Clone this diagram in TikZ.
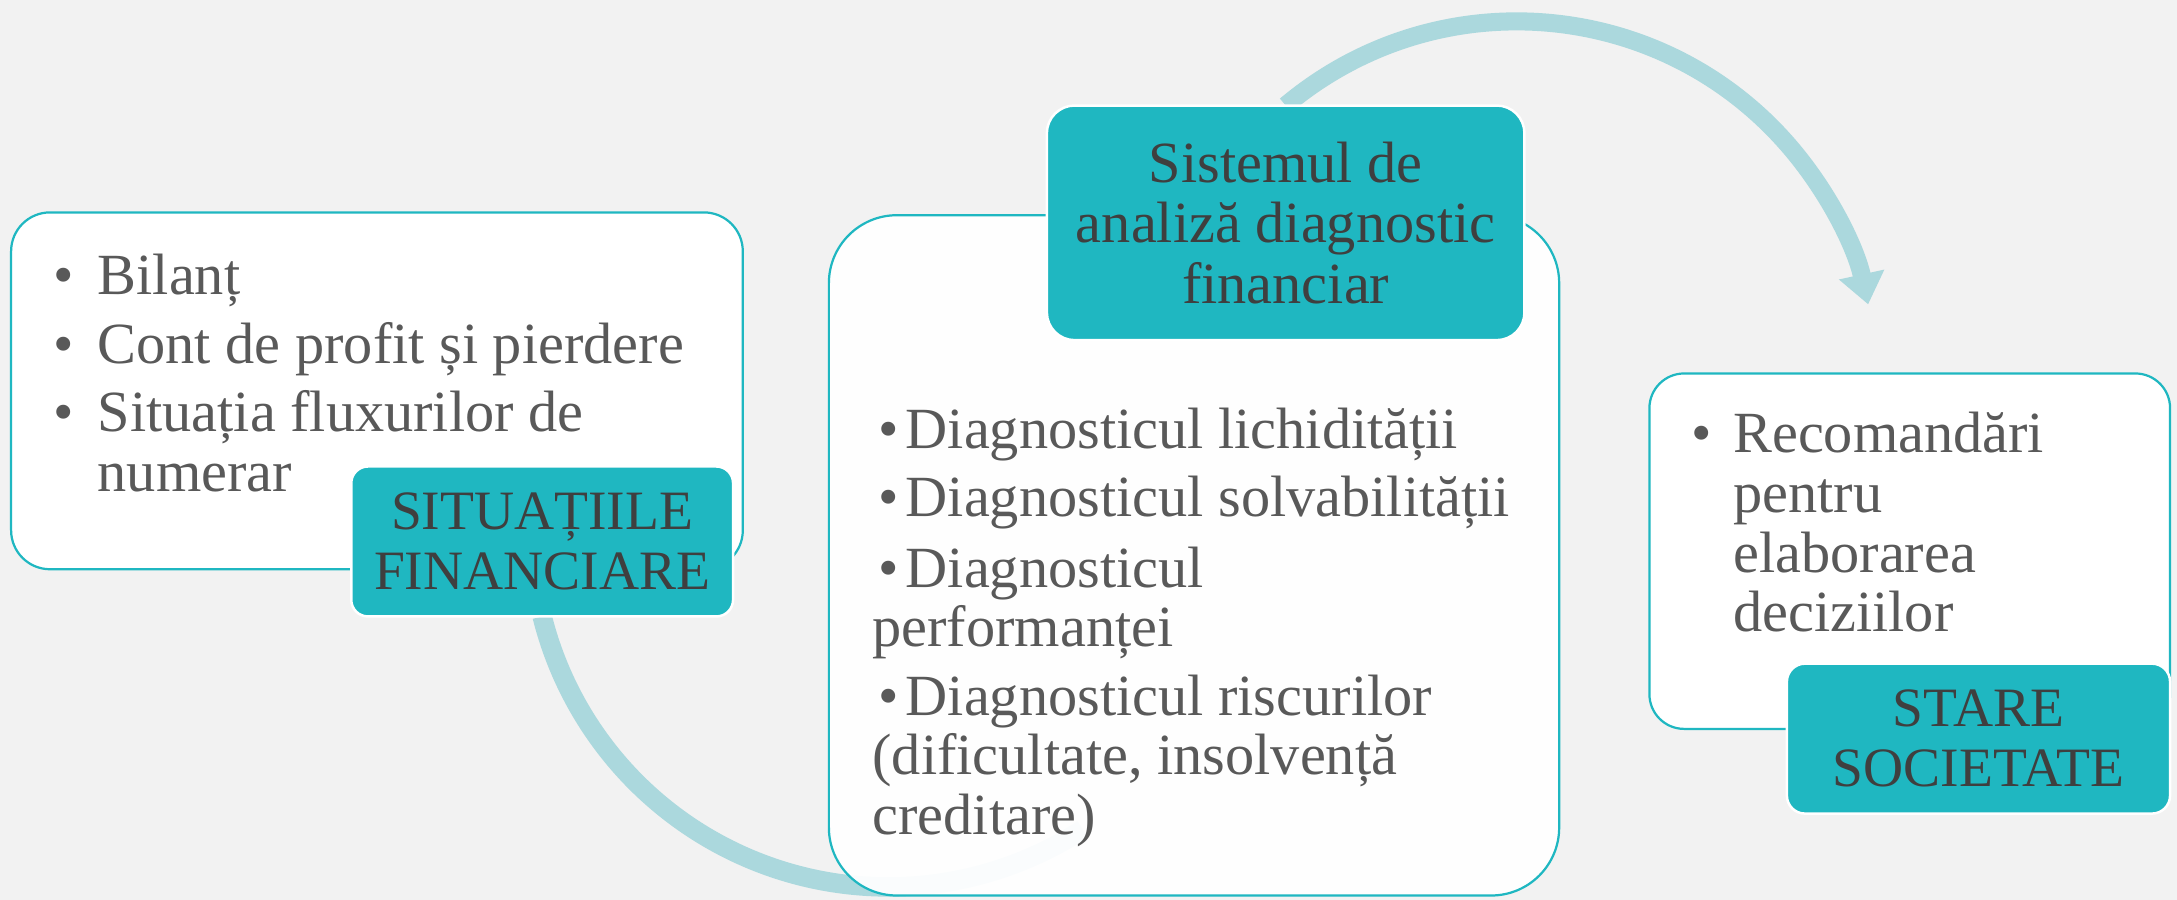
\documentclass[tikz,border=0pt]{standalone}
\usepackage{fontspec}
\setmainfont{Liberation Serif}
\usetikzlibrary{arrows.meta}
\definecolor{bg}{HTML}{F2F2F2}
\definecolor{tealc}{HTML}{1FB7C1}
\definecolor{arcc}{HTML}{ABD8DD}
\definecolor{bodytxt}{HTML}{595959}
\definecolor{labtxt}{HTML}{3F3F3F}
\newcommand\blA{\makebox[16pt][l]{•}}
\newcommand\blC{\makebox[15pt][l]{•}}
\newcommand\blB{\makebox[12pt][c]{•}}
\begin{document}
\begin{tikzpicture}[x=0.5pt,y=0.5pt,
  panel/.style={draw=tealc, line width=0.8pt, fill=white, rounded corners=#1,
    inner sep=0pt, outer sep=0pt},
  label/.style={draw=white, line width=0.9pt, fill=tealc, text=labtxt,
    rounded corners=#1, align=center, inner sep=0pt, outer sep=0pt},
  bodytext/.style={text=bodytxt, align=left, inner sep=0pt, anchor=base west,
    font=\fontsize{21}{21.5}\selectfont},
  flow/.style={arcc, line width=#1}]
\fill[bg] (0,0) rectangle (1568,648);
\useasboundingbox (0,0) rectangle (1568,648);

% arc end points at the label edges
\coordinate (aS) at (390.5,204);
\coordinate (bN) at (926,572);

% flow arcs
\draw[flow=7pt] (aS) arc[start angle=194, end angle=303, radius=257];
\draw[flow=6.5pt, -{Triangle[width=16pt,length=11pt]}] (bN) arc[start angle=130, end angle=12.3, radius=259];

% panels
\node[panel=14pt, minimum width=263.5pt, minimum height=128.5pt] (boxA) at (271.5,366.5) {};
\node[panel=24.5pt, minimum width=263pt, minimum height=245pt, fill opacity=0.94] (boxB) at (860,248) {};
\node[panel=12.5pt, minimum width=187.5pt, minimum height=128pt] (boxC) at (1375.5,251) {};

% panel texts (anchored at the baseline of the last line)
\node[bodytext] (tA) at (38,294) {\blA Bilanț\\[3.5pt]
\blA Cont de profit și pierdere\\[3pt]
\blA Situația fluxurilor de\\
\hspace*{16pt}numerar};

\node[bodytext] (tB) at (628,47) {\blB Diagnosticul lichidității\\[3pt]
\blB Diagnosticul solvabilității\\[4pt]
\blB Diagnosticul\\
performanței\\[3pt]
\blB Diagnosticul riscurilor\\
(dificultate, insolvență\\
creditare)};

\node[bodytext] (tC) at (1218,193) {\blC Recomandări\\
\hspace*{15pt}pentru\\
\hspace*{15pt}elaborarea\\
\hspace*{15pt}deciziilor};

% labels
\node[label=6pt, minimum width=137.5pt, minimum height=54pt,
  font=\fontsize{20}{21.5}\selectfont] (labA) at (390.5,258) {SITUAȚIILE\\FINANCIARE};
\node[label=10pt, minimum width=172pt, minimum height=84.5pt,
  font=\fontsize{21}{21.75}\selectfont] (labB) at (926,487.5) {Sistemul de\\analiză diagnostic\\financiar};
\node[label=6.5pt, minimum width=138pt, minimum height=54pt,
  font=\fontsize{20}{21.5}\selectfont] (labC) at (1425,116) {STARE\\SOCIETATE};
\end{tikzpicture}
\end{document}
